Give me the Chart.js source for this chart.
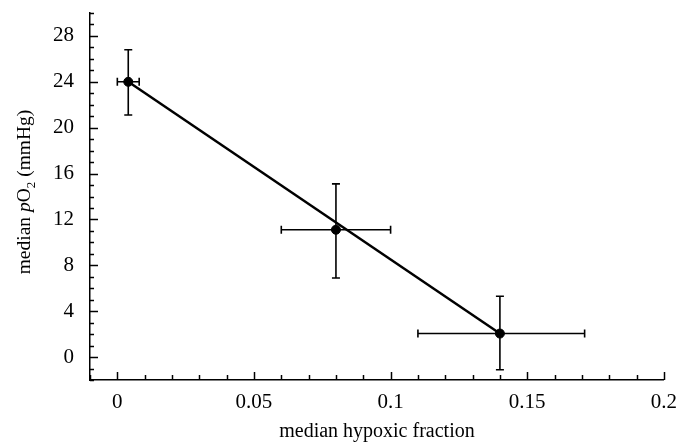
<!DOCTYPE html>
<html>
<head>
<meta charset="utf-8">
<script src="https://cdn.jsdelivr.net/npm/chart.js@4/dist/chart.umd.min.js"></script>
<style>
  html, body { margin: 0; padding: 0; background: #fff; }
  #wrap { width: 679px; height: 444px; }
</style>
</head>
<body>
<div id="wrap"><canvas id="chart"></canvas></div>
<script>
// data
const hypoxicFraction = [0.004, 0.08, 0.14];
const medianPO2 = [24, 11.1, 2.05];
const xErrLow = [0.0, 0.06, 0.11];
const xErrHigh = [0.008, 0.10, 0.171];
const yErrLow = [21.1, 6.9, -1.1];
const yErrHigh = [26.8, 15.1, 5.3];

// fitted line end points
const fitX = [0.004, 0.14];
const fitY = [24, 2.05];

// axis ticks
const xTicks = [0, 0.05, 0.1, 0.15, 0.2];
const xMinorTicks = [-0.01, 0.01, 0.02, 0.03, 0.04, 0.06, 0.07, 0.08, 0.09, 0.11, 0.12, 0.13, 0.14, 0.16, 0.17, 0.18, 0.19];
const yTicks = [0, 4, 8, 12, 16, 20, 24, 28];
const yMinorTicks = [-2, -1, 1, 2, 3, 5, 6, 7, 9, 10, 11, 13, 14, 15, 17, 18, 19, 21, 22, 23, 25, 26, 27, 29, 30];

const FONT = '"Liberation Serif", "DejaVu Serif", serif';
const INK = '#000';

// inward tick marks on both axes
const tickMarks = {
  id: 'tickMarks',
  afterDraw(chart) {
    const { ctx, chartArea, scales } = chart;
    ctx.save();
    ctx.strokeStyle = INK;
    ctx.lineWidth = 1.5;
    const drawX = (vals, len) => {
      vals.forEach(v => {
        const px = Math.round(scales.x.getPixelForValue(v)) + 0.5;
        ctx.beginPath();
        ctx.moveTo(px, chartArea.bottom);
        ctx.lineTo(px, chartArea.bottom - len);
        ctx.stroke();
      });
    };
    const drawY = (vals, len) => {
      vals.forEach(v => {
        const py = Math.round(scales.y.getPixelForValue(v)) + 0.5;
        ctx.beginPath();
        ctx.moveTo(chartArea.left, py);
        ctx.lineTo(chartArea.left + len, py);
        ctx.stroke();
      });
    };
    drawX(xTicks, 8);
    drawX(xMinorTicks, 5);
    drawY(yTicks, 8);
    drawY(yMinorTicks, 4);
    ctx.restore();
  }
};

// error bars with caps
const errorBars = {
  id: 'errorBars',
  afterDatasetsDraw(chart) {
    const { ctx, scales } = chart;
    const x = scales.x, y = scales.y;
    const cap = 4;
    ctx.save();
    ctx.strokeStyle = INK;
    ctx.lineWidth = 1.6;
    hypoxicFraction.forEach((xv, i) => {
      const cx = x.getPixelForValue(xv);
      const cy = y.getPixelForValue(medianPO2[i]);
      const yt = y.getPixelForValue(yErrHigh[i]);
      const yb = y.getPixelForValue(yErrLow[i]);
      const xl = x.getPixelForValue(xErrLow[i]);
      const xr = x.getPixelForValue(xErrHigh[i]);
      ctx.beginPath();
      ctx.moveTo(cx, yt); ctx.lineTo(cx, yb);
      ctx.moveTo(cx - cap, yt); ctx.lineTo(cx + cap, yt);
      ctx.moveTo(cx - cap, yb); ctx.lineTo(cx + cap, yb);
      ctx.moveTo(xl, cy); ctx.lineTo(xr, cy);
      ctx.moveTo(xl, cy - cap); ctx.lineTo(xl, cy + cap);
      ctx.moveTo(xr, cy - cap); ctx.lineTo(xr, cy + cap);
      ctx.stroke();
    });
    ctx.restore();
  }
};

// y axis title with italic p and subscript 2
const yTitle = {
  id: 'yTitle',
  afterDraw(chart) {
    const { ctx } = chart;
    const parts = [
      { t: 'median ', f: '19.5px ' + FONT, dy: 0 },
      { t: 'p', f: 'italic 19.5px ' + FONT, dy: 0 },
      { t: 'O', f: '19.5px ' + FONT, dy: 0 },
      { t: '2', f: '13px ' + FONT, dy: 5 },
      { t: ' (mmHg)', f: '19.5px ' + FONT, dy: 0 }
    ];
    let total = 0;
    parts.forEach(p => { ctx.font = p.f; p.w = ctx.measureText(p.t).width; total += p.w; });
    ctx.save();
    ctx.translate(30, 192);
    ctx.rotate(-Math.PI / 2);
    ctx.fillStyle = INK;
    ctx.textBaseline = 'alphabetic';
    let cx = -total / 2;
    parts.forEach(p => {
      ctx.font = p.f;
      ctx.fillText(p.t, cx, p.dy);
      cx += p.w;
    });
    ctx.restore();
  }
};

new Chart(document.getElementById('chart'), {
  data: {
    datasets: [
      {
        type: 'line',
        data: fitX.map((v, i) => ({ x: v, y: fitY[i] })),
        borderColor: INK,
        borderWidth: 2.5,
        pointRadius: 0,
        fill: false
      },
      {
        type: 'scatter',
        data: hypoxicFraction.map((v, i) => ({ x: v, y: medianPO2[i] })),
        backgroundColor: INK,
        borderColor: INK,
        pointRadius: 4.5
      }
    ]
  },
  options: {
    responsive: true,
    maintainAspectRatio: false,
    animation: false,
    layout: { padding: { top: 13, right: 15, left: 0, bottom: 0 } },
    plugins: { legend: { display: false }, tooltip: { enabled: false } },
    scales: {
      x: {
        type: 'linear',
        min: -0.01,
        max: 0.2,
        afterBuildTicks: s => { s.ticks = xTicks.map(v => ({ value: v })); },
        afterFit: s => { s.height = 64; },
        grid: { display: false },
        border: { display: true, color: INK, width: 1.5 },
        ticks: {
          color: INK,
          font: { family: FONT, size: 21 },
          padding: 2,
          maxRotation: 0,
          callback: v => String(v)
        },
        title: {
          display: true,
          text: 'median hypoxic fraction',
          color: INK,
          font: { family: FONT, size: 20 },
          padding: { top: 4, bottom: 0 }
        }
      },
      y: {
        type: 'linear',
        min: -2,
        max: 30,
        afterBuildTicks: s => { s.ticks = yTicks.map(v => ({ value: v })); },
        afterFit: s => { s.width = 90; s.paddingTop = 0; s.paddingBottom = 0; },
        grid: { display: false },
        border: { display: true, color: INK, width: 1.5 },
        ticks: {
          color: INK,
          font: { family: FONT, size: 21 },
          padding: 8,
          callback: v => String(v)
        }
      }
    }
  },
  plugins: [tickMarks, errorBars, yTitle]
});
</script>
</body>
</html>
